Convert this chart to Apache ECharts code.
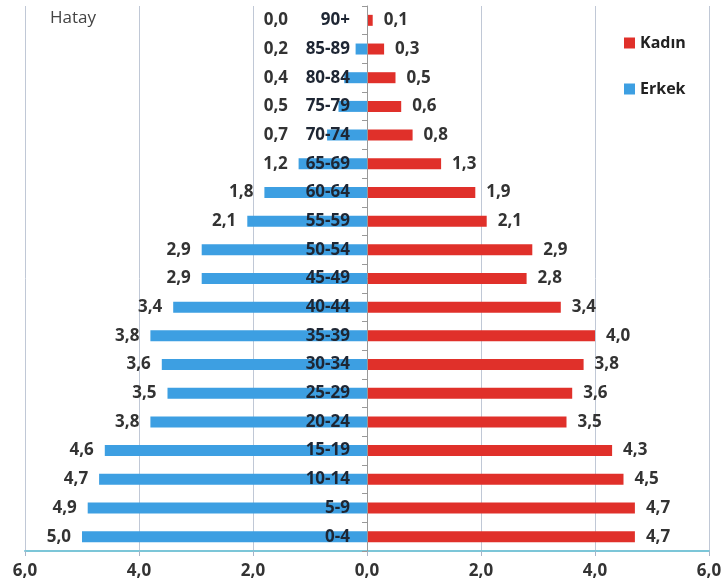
<!DOCTYPE html>
<html>
<head>
<meta charset="utf-8">
<script src="https://cdn.jsdelivr.net/npm/echarts@6/dist/echarts.min.js"></script>
<style>
  html, body { margin: 0; padding: 0; background: #fff; }
  #chart { width: 722px; height: 586px; }
</style>
</head>
<body>
<div id="chart"></div>
<script>
// age groups, bottom to top
const ageGroups = ['0-4', '5-9', '10-14', '15-19', '20-24', '25-29', '30-34', '35-39', '40-44',
  '45-49', '50-54', '55-59', '60-64', '65-69', '70-74', '75-79', '80-84', '85-89', '90+'];
const erkek = [5.0, 4.9, 4.7, 4.6, 3.8, 3.5, 3.6, 3.8, 3.4, 2.9, 2.9, 2.1, 1.8, 1.2, 0.7, 0.5, 0.4, 0.2, 0.0];
const kadin = [4.7, 4.7, 4.5, 4.3, 3.5, 3.6, 3.8, 4.0, 3.4, 2.8, 2.9, 2.1, 1.9, 1.3, 0.8, 0.6, 0.5, 0.3, 0.1];

const fmt = (v) => Math.abs(v).toFixed(1).replace('.', ',');
const fontFam = '"Open Sans", "DejaVu Sans", sans-serif';

const chart = echarts.init(document.getElementById('chart'));

const option = {
  animation: false,
  title: {
    text: 'Hatay',
    left: 45,
    top: 5,
    textStyle: { fontFamily: fontFam, fontSize: 17, fontWeight: 'normal', color: '#444' },
  },
  legend: {
    orient: 'vertical',
    left: 619,
    top: 30,
    itemGap: 30,
    itemWidth: 11,
    itemHeight: 11,
    itemStyle: { borderWidth: 0 },
    icon: 'rect',
    data: ['Kadın', 'Erkek'],
    textStyle: { fontFamily: fontFam, fontSize: 16, fontWeight: 'bold', color: '#222' },
  },
  grid: {
    left: 25,
    right: 13,
    top: 6,
    bottom: 35,
    containLabel: false,
    outerBoundsMode: 'none',
  },
  xAxis: {
    type: 'value',
    min: -6,
    max: 6,
    interval: 2,
    axisLine: { show: true, lineStyle: { color: '#7cc6d8', width: 2 } },
    axisTick: { show: true, length: 5, lineStyle: { color: '#a8b4c8' } },
    splitLine: { show: true, lineStyle: { color: '#c0c8d6', width: 1 } },
    axisLabel: {
      margin: 12,
      fontFamily: fontFam,
      fontSize: 17,
      fontWeight: 'bold',
      color: '#333',
      formatter: (v) => fmt(v),
    },
  },
  yAxis: {
    type: 'category',
    data: ageGroups,
    z: 10,
    position: 'left',
    offset: -342,
    axisLine: { onZero: false, lineStyle: { color: '#999', width: 1 } },
    axisTick: { show: true, length: 5, lineStyle: { color: '#999' } },
    axisLabel: {
      margin: 17,
      fontFamily: fontFam,
      fontSize: 17,
      fontWeight: 'bold',
      color: '#1e2633',
    },
  },
  series: [
    {
      name: 'Kadın',
      type: 'bar',
      data: kadin,
      barWidth: 11,
      barGap: '-100%',
      itemStyle: { color: '#e0302a' },
      label: {
        show: true,
        position: 'right',
        distance: 11,
        fontFamily: fontFam,
        fontSize: 17,
        fontWeight: 'bold',
        color: '#333',
        formatter: (p) => fmt(p.value),
      },
    },
    {
      name: 'Erkek',
      type: 'bar',
      data: erkek.map((v) => -v),
      barWidth: 11,
      itemStyle: { color: '#3d9fe2' },
      label: {
        show: true,
        position: 'left',
        distance: 11,
        fontFamily: fontFam,
        fontSize: 17,
        fontWeight: 'bold',
        color: '#333',
        formatter: (p) => fmt(p.value),
      },
      labelLayout: (p) => {
        const r = p.rect;
        const leftEdge = Math.min(r.x, r.x + r.width);
        const zeroX = Math.max(r.x, r.x + r.width);
        const right = Math.min(leftEdge - 11, zeroX - 79);
        return { x: right, y: r.y + r.height / 2, align: 'right', verticalAlign: 'middle' };
      },
    },
  ],
};

chart.setOption(option);
</script>
</body>
</html>
